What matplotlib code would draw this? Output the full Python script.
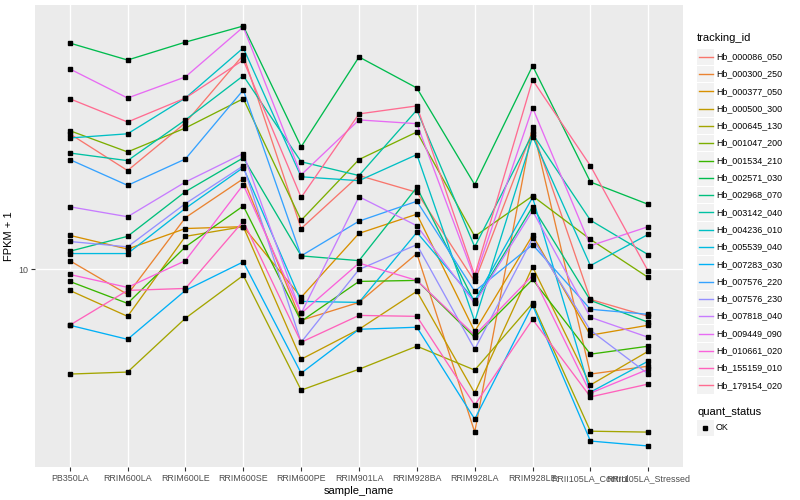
import matplotlib
matplotlib.use("Agg")
import matplotlib.pyplot as plt
from matplotlib.lines import Line2D
from matplotlib.patches import Rectangle

plt.rcParams['font.family'] = ['Liberation Sans', 'DejaVu Sans']

samples = ["PB350LA", "RRIM600LA", "RRIM600LE", "RRIM600SE", "RRIM600PE",
           "RRIM901LA", "RRIM928BA", "RRIM928LA", "RRIM928LE",
           "RRII105LA_Control", "RRII105LA_Stressed"]

tracking_ids = ["Hb_000086_050", "Hb_000300_250", "Hb_000377_050", "Hb_000500_300",
                "Hb_000645_130", "Hb_001047_200", "Hb_001534_210", "Hb_002571_030",
                "Hb_002968_070", "Hb_003142_040", "Hb_004236_010", "Hb_005539_040",
                "Hb_007283_030", "Hb_007576_220", "Hb_007576_230", "Hb_007818_040",
                "Hb_009449_090", "Hb_010661_020", "Hb_155159_010", "Hb_179154_020"]

colors = ["#F8766D", "#EA8331", "#D89000", "#C09B00", "#A3A500", "#7CAE00",
          "#39B600", "#00BB4E", "#00BF7D", "#00C1A3", "#00BFC4", "#00BAE0",
          "#00B0F6", "#35A2FF", "#9590FF", "#C77CFF", "#E76BF3", "#FA62DB",
          "#FF62BC", "#FF6C91"]

# FPKM + 1 per sample (same order as samples)
Hb_000086_050 = [28.4, 21.4, 30.9, 52.1, 13.7, 20.6, 18.1, 9.12, 29.1, 7.94, 6.97]
Hb_000300_250 = [10.7, 8.25, 14.9, 20.1, 6.76, 7.76, 11.3, 2.86, 30.0, 4.47, 4.75]
Hb_000377_050 = [13.0, 11.7, 13.7, 13.9, 8.07, 13.2, 15.3, 6.21, 13.0, 6.03, 6.51]
Hb_000500_300 = [8.51, 6.97, 12.9, 13.9, 5.01, 6.31, 8.45, 3.86, 10.2, 4.11, 5.33]
Hb_000645_130 = [4.47, 4.54, 6.87, 9.55, 3.95, 4.64, 5.54, 4.61, 7.70, 2.88, 2.86]
Hb_001047_200 = [29.1, 24.7, 29.7, 37.2, 14.6, 23.3, 28.8, 12.9, 17.6, 12.6, 9.40]
Hb_001534_210 = [9.12, 7.70, 11.9, 16.3, 6.71, 9.12, 9.19, 5.93, 9.26, 5.21, 5.54]
Hb_002571_030 = [57.1, 50.1, 57.5, 65.1, 25.7, 51.3, 40.4, 19.2, 47.9, 19.6, 16.5]
Hb_002968_070 = [11.5, 12.9, 18.2, 23.6, 11.1, 10.7, 18.8, 7.76, 16.2, 7.88, 6.66]
Hb_003142_040 = [24.5, 23.1, 31.6, 44.4, 22.9, 20.6, 34.1, 11.9, 28.4, 14.6, 11.2]
Hb_004236_010 = [27.5, 28.4, 37.4, 55.0, 20.4, 19.8, 24.2, 6.71, 27.8, 10.3, 13.1]
Hb_005539_040 = [11.3, 11.3, 16.0, 21.9, 7.82, 7.76, 13.3, 7.88, 17.4, 3.89, 4.94]
Hb_007283_030 = [6.51, 5.84, 8.51, 10.6, 4.50, 6.31, 6.41, 3.16, 7.59, 2.67, 2.57]
Hb_007576_220 = [23.3, 19.1, 23.4, 39.8, 11.1, 14.5, 16.9, 8.45, 12.1, 7.36, 7.08]
Hb_007576_230 = [12.4, 11.9, 16.6, 22.2, 5.71, 10.0, 12.1, 5.41, 12.7, 6.26, 4.47]
Hb_007818_040 = [16.2, 15.0, 19.6, 24.4, 7.13, 17.5, 14.0, 7.70, 15.7, 6.92, 5.93]
Hb_009449_090 = [46.8, 37.4, 44.0, 64.6, 20.7, 31.6, 30.7, 9.33, 34.7, 12.0, 13.9]
Hb_010661_020 = [9.62, 8.71, 10.7, 19.2, 7.13, 10.5, 9.19, 6.03, 9.55, 3.86, 4.64]
Hb_155159_010 = [6.51, 8.51, 8.64, 14.5, 5.71, 7.02, 6.97, 3.52, 6.81, 3.75, 4.14]
Hb_179154_020 = [37.2, 31.1, 37.4, 50.1, 17.4, 33.1, 35.2, 9.55, 43.0, 22.2, 9.85]

series = [Hb_000086_050, Hb_000300_250, Hb_000377_050, Hb_000500_300, Hb_000645_130,
          Hb_001047_200, Hb_001534_210, Hb_002571_030, Hb_002968_070, Hb_003142_040,
          Hb_004236_010, Hb_005539_040, Hb_007283_030, Hb_007576_220, Hb_007576_230,
          Hb_007818_040, Hb_009449_090, Hb_010661_020, Hb_155159_010, Hb_179154_020]

W, H = 800, 500
fig = plt.figure(figsize=(8, 5), dpi=100)
fig.patch.set_facecolor('white')
L, R, T, B = 35, 683, 5, 467
ax = fig.add_axes([L / W, 1 - B / H, (R - L) / W, (B - T) / H])
ax.set_facecolor('#EBEBEB')
for s in ax.spines.values():
    s.set_visible(False)

x = list(range(len(samples)))
for vals, c in zip(series, colors):
    ax.plot(x, vals, color=c, lw=0.95, zorder=2, solid_capstyle='butt')
for vals in series:
    ax.plot(x, vals, linestyle='none', marker='s', markersize=2.6,
            color='black', zorder=3)

ax.set_yscale('log')
allv = [v for s in series for v in s]
import math
lo, hi = math.log10(min(allv)), math.log10(max(allv))
pad = (hi - lo) * 0.05
ax.set_ylim(10 ** (lo - pad), 10 ** (hi + pad))
ax.set_xlim(-0.6, len(samples) - 1 + 0.6)
ax.set_yticks([10])
ax.set_yticklabels(['10'])
ax.yaxis.set_minor_locator(matplotlib.ticker.NullLocator())
ax.set_xticks(x)
ax.set_xticklabels(samples)
ax.tick_params(axis='both', colors='#333333', length=3, width=0.8,
               labelsize=6.4, labelcolor='#4D4D4D', pad=2)
ax.grid(True, which='major', color='white', lw=1.0)
ax.set_axisbelow(True)

ax.set_xlabel('sample_name', fontsize=8, color='black', labelpad=2)
ax.set_ylabel('FPKM + 1', fontsize=8, color='black', labelpad=3)

# legend (drawn in figure pixel coordinates)
def px(xp, yp):
    return xp / W, 1 - yp / H

fig.text(*px(697, 38), 'tracking_id', fontsize=8, va='center', ha='left')
pitch = 17.3
y0 = 56.7
for i, (tid, c) in enumerate(zip(tracking_ids, colors)):
    yc = y0 + i * pitch
    fig.patches.append(Rectangle(px(697, yc + 8.2), 16.6 / W, 16.4 / H,
                                 transform=fig.transFigure, facecolor='#F2F2F2',
                                 edgecolor='none', zorder=1))
    fig.lines.append(Line2D([699 / W, 713 / W], [1 - yc / H, 1 - yc / H],
                            transform=fig.transFigure, color=c, lw=1.0))
    fig.text(*px(716, yc), tid, fontsize=6.4, va='center', ha='left', color='black')

fig.text(*px(697, 412), 'quant_status', fontsize=8, va='center', ha='left')
yc = 428
fig.patches.append(Rectangle(px(697, yc + 8.2), 16.6 / W, 16.4 / H,
                             transform=fig.transFigure, facecolor='#F2F2F2',
                             edgecolor='none', zorder=1))
fig.lines.append(Line2D([705 / W], [1 - yc / H], transform=fig.transFigure,
                        marker='s', markersize=2.6, color='black', linestyle='none'))
fig.text(*px(716, yc), 'OK', fontsize=6.4, va='center', ha='left', color='black')

fig.savefig('out.png', dpi=100)
